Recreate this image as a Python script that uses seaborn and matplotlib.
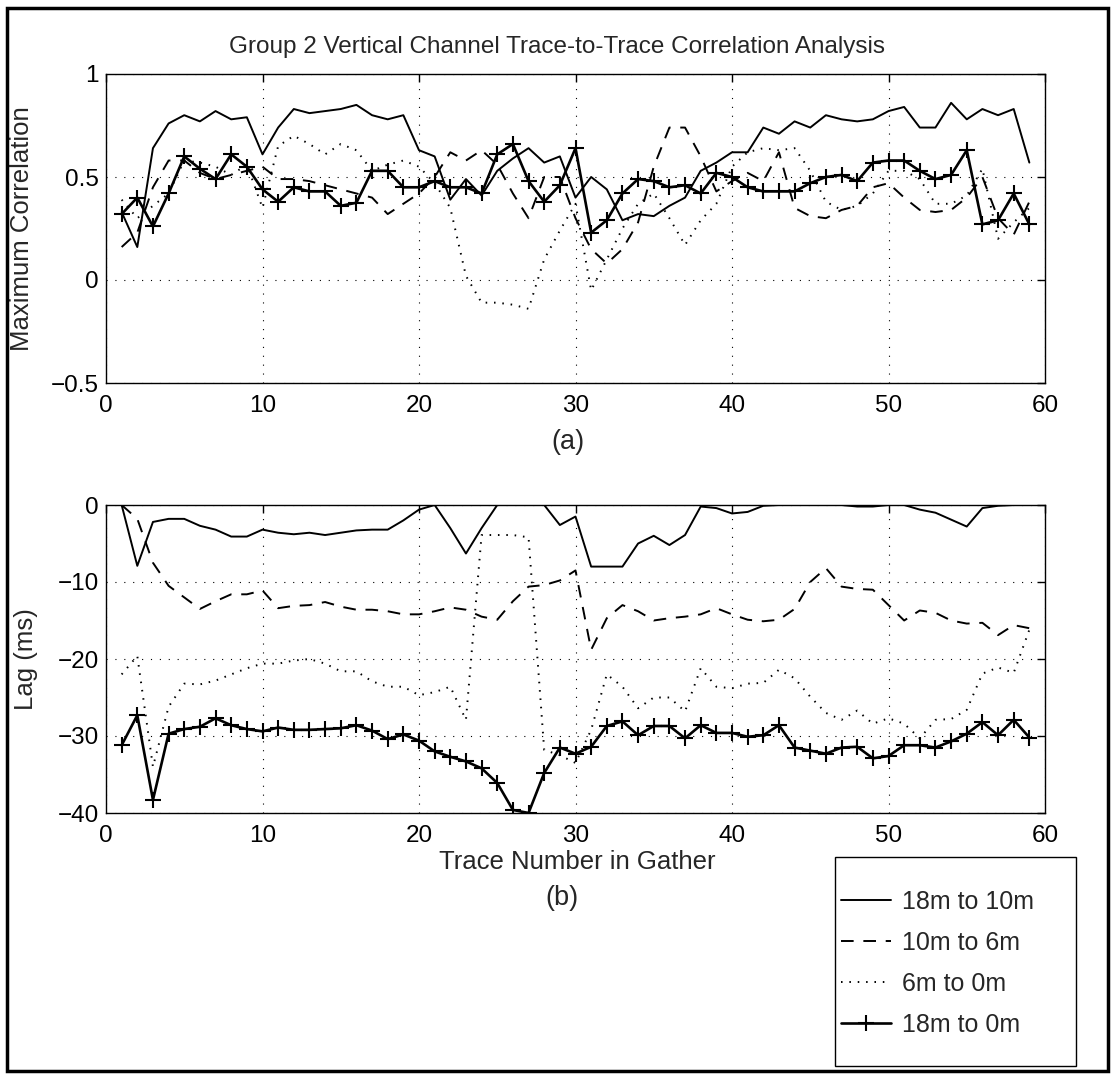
import matplotlib
matplotlib.use("Agg")
import matplotlib.pyplot as plt
from matplotlib.patches import Rectangle
import seaborn as sns
import numpy as np

# ---------------- data ----------------
trace = list(range(1, 60))

series_labels = ["18m to 10m", "10m to 6m", "6m to 0m", "18m to 0m"]

corr_18_10 = [0.33, 0.16, 0.64, 0.76, 0.80, 0.77, 0.82, 0.78, 0.79, 0.61,
              0.74, 0.83, 0.81, 0.82, 0.83, 0.85, 0.80, 0.78, 0.80, 0.63,
              0.60, 0.39, 0.49, 0.41, 0.53, 0.59, 0.64, 0.57, 0.60, 0.40,
              0.50, 0.44, 0.29, 0.32, 0.31, 0.36, 0.40, 0.53, 0.57, 0.62,
              0.62, 0.74, 0.71, 0.77, 0.74, 0.80, 0.78, 0.77, 0.78, 0.82,
              0.84, 0.74, 0.74, 0.86, 0.78, 0.83, 0.80, 0.83, 0.57]
corr_10_6 = [0.16, 0.23, 0.45, 0.58, 0.58, 0.52, 0.49, 0.51, 0.53, 0.55,
             0.49, 0.49, 0.48, 0.46, 0.44, 0.42, 0.40, 0.32, 0.37, 0.42,
             0.50, 0.62, 0.58, 0.63, 0.56, 0.42, 0.30, 0.50, 0.50, 0.30,
             0.15, 0.08, 0.15, 0.28, 0.55, 0.74, 0.74, 0.60, 0.43, 0.48,
             0.52, 0.48, 0.62, 0.35, 0.31, 0.30, 0.34, 0.36, 0.45, 0.47,
             0.40, 0.34, 0.33, 0.34, 0.40, 0.50, 0.30, 0.22, 0.38]
corr_6_0 = [0.39, 0.30, 0.36, 0.42, 0.58, 0.57, 0.55, 0.51, 0.56, 0.35,
            0.65, 0.70, 0.66, 0.61, 0.66, 0.63, 0.53, 0.56, 0.58, 0.55,
            0.47, 0.35, 0.02, -0.11, -0.11, -0.12, -0.14, 0.10, 0.24, 0.37,
            -0.05, 0.10, 0.25, 0.37, 0.42, 0.30, 0.17, 0.29, 0.37, 0.55,
            0.62, 0.64, 0.63, 0.64, 0.53, 0.38, 0.34, 0.36, 0.42, 0.53,
            0.53, 0.49, 0.37, 0.37, 0.41, 0.54, 0.20, 0.28, 0.35]
corr_18_0 = [0.32, 0.40, 0.26, 0.42, 0.60, 0.54, 0.49, 0.61, 0.55, 0.44,
             0.38, 0.45, 0.43, 0.43, 0.36, 0.375, 0.53, 0.53, 0.45, 0.45,
             0.48, 0.45, 0.45, 0.42, 0.61, 0.66, 0.48, 0.38, 0.46, 0.64,
             0.23, 0.29, 0.42, 0.49, 0.48, 0.45, 0.46, 0.42, 0.52, 0.50,
             0.45, 0.43, 0.43, 0.43, 0.47, 0.50, 0.51, 0.48, 0.57, 0.58,
             0.58, 0.53, 0.49, 0.51, 0.63, 0.27, 0.29, 0.42, 0.27]

lag_18_10 = [0, -7.9, -2.2, -1.8, -1.8, -2.7, -3.2, -4.1, -4.1, -3.2,
             -3.6, -3.8, -3.6, -3.9, -3.6, -3.3, -3.2, -3.2, -2.0, -0.6,
             0, -3.0, -6.3, -3.0, 0, 0, 0, 0, -2.6, -1.5,
             -8.0, -8.0, -8.0, -5.0, -4.0, -5.2, -3.9, -0.2, -0.4, -1.1,
             -0.9, -0.1, 0, 0, 0, 0, 0, -0.2, -0.2, 0,
             0, -0.6, -1.0, -1.9, -2.8, -0.4, -0.1, 0, 0]
lag_10_6 = [0, -1.8, -7.5, -10.5, -12.0, -13.5, -12.5, -11.6, -11.6, -11.1,
            -13.4, -13.1, -13.0, -12.6, -13.2, -13.6, -13.6, -13.8, -14.2, -14.2,
            -13.8, -13.3, -13.6, -14.5, -14.9, -12.5, -10.6, -10.4, -9.8, -8.5,
            -18.8, -14.7, -13.0, -13.8, -15.0, -14.7, -14.5, -14.2, -13.4, -14.2,
            -14.9, -15.1, -14.9, -13.5, -10.0, -8.2, -10.6, -10.9, -11.0, -13.0,
            -15.0, -13.7, -14.0, -15.0, -15.4, -15.3, -16.9, -15.6, -16.0]
lag_6_0 = [-22.0, -19.6, -34.0, -26.2, -23.2, -23.3, -22.8, -22.0, -21.2, -20.6,
           -20.6, -20.2, -20.0, -20.6, -21.6, -21.6, -22.9, -23.6, -23.6, -24.7,
           -24.3, -23.6, -27.9, -3.9, -3.9, -3.9, -4.2, -31.8, -32.5, -33.5,
           -29.2, -22.0, -23.6, -26.4, -25.0, -25.0, -26.8, -21.2, -23.6, -23.8,
           -23.2, -23.1, -21.4, -22.5, -24.9, -27.0, -27.9, -26.7, -28.4, -27.7,
           -28.4, -30.3, -27.9, -27.8, -26.6, -21.9, -21.1, -21.8, -16.2]
lag_18_0 = [-31.2, -27.3, -38.3, -29.7, -29.1, -28.8, -27.7, -28.6, -29.1, -29.4,
            -28.9, -29.2, -29.2, -29.1, -29.0, -28.6, -29.3, -30.4, -29.8, -30.6,
            -32.0, -32.7, -33.3, -34.2, -36.1, -39.6, -40.0, -34.8, -31.5, -32.3,
            -31.4, -28.7, -28.1, -29.9, -28.7, -28.7, -30.3, -28.6, -29.6, -29.6,
            -30.1, -29.9, -28.6, -31.5, -31.9, -32.3, -31.5, -31.4, -32.9, -32.6,
            -31.2, -31.2, -31.5, -30.7, -29.7, -28.2, -29.9, -27.9, -30.2]

x_ticks = [0, 10, 20, 30, 40, 50, 60]
corr_ticks = [-0.5, 0, 0.5, 1]
corr_tick_labels = ["\u22120.5", "0", "0.5", "1"]
lag_ticks = [-40, -30, -20, -10, 0]
lag_tick_labels = ["\u221240", "\u221230", "\u221220", "\u221210", "0"]

title = "Group 2 Vertical Channel Trace-to-Trace Correlation Analysis"

# ---------------- style ----------------
sns.set_style("white")
plt.rcParams["font.family"] = ["Liberation Sans", "DejaVu Sans"]
plt.rcParams["axes.linewidth"] = 1.0
FS = 17.5
LFS = 18.5

W, H = 1112, 1075
fig = plt.figure(figsize=(W / 100, H / 100), dpi=100)
fig.patch.set_facecolor("white")


def fx(px):
    return px / W


def fy(py):
    return 1 - py / H


ax1 = fig.add_axes([fx(106), fy(383), fx(1045) - fx(106), fy(74) - fy(383)])
ax2 = fig.add_axes([fx(106), fy(813), fx(1045) - fx(106), fy(505) - fy(813)])

styles = [
    dict(linestyle="-", linewidth=1.4),
    dict(linestyle=(0, (6.5, 5.0)), linewidth=1.4),
    dict(linestyle=(0, (0.8, 3.5)), linewidth=1.4),
    dict(linestyle="-", linewidth=1.9, marker="+", markersize=12,
         markeredgewidth=1.5, markeredgecolor="k"),
]

for ax, sets in [(ax1, [corr_18_10, corr_10_6, corr_6_0, corr_18_0]),
                 (ax2, [lag_18_10, lag_10_6, lag_6_0, lag_18_0])]:
    for vals, lab, st in zip(sets, series_labels, styles):
        sns.lineplot(x=trace, y=vals, ax=ax, color="k", label=lab,
                     errorbar=None, sort=False, **st)
    ax.get_legend().remove()
    ax.set_xlim(0, 60)
    ax.set_xticks(x_ticks)
    ax.grid(True, color="k", linestyle=(0, (1, 7)), linewidth=0.8)
    ax.tick_params(direction="in", top=True, right=True, length=6, width=1,
                   labelsize=FS, pad=9, colors="k")
    ax.tick_params(axis="y", pad=5)
    for s in ax.spines.values():
        s.set_color("k")
        s.set_linewidth(1.0)
    ax.set_xlabel("")
    ax.set_ylabel("")

ax1.set_ylim(-0.5, 1)
ax1.set_yticks(corr_ticks, corr_tick_labels)
ax2.set_ylim(-40, 0)
ax2.set_yticks(lag_ticks, lag_tick_labels)

ax1.set_ylabel("Maximum Correlation", fontsize=LFS)
ax1.yaxis.set_label_coords((34 - 106) / 939, 0.5)
ax2.set_ylabel("Lag (ms)", fontsize=LFS)
ax2.yaxis.set_label_coords((38 - 106) / 939, 0.5)
ax2.set_xlabel("Trace Number in Gather", fontsize=LFS)
ax2.xaxis.set_label_coords((577 - 106) / 939, -(850 - 813) / 308)

ax1.text((568 - 106) / 939, -(442 - 383) / 309, "(a)", transform=ax1.transAxes,
         ha="center", va="center", fontsize=LFS + 1)
ax2.text((562 - 106) / 939, -(898 - 813) / 308, "(b)", transform=ax2.transAxes,
         ha="center", va="center", fontsize=LFS + 1)

fig.text(fx(557), fy(47), title, ha="center", va="center", fontsize=FS)

# legend box
fig.patches.append(Rectangle((fx(835), fy(1066)), fx(1076) - fx(835),
                             fy(857) - fy(1066), transform=fig.transFigure,
                             fill=False, edgecolor="k", linewidth=1.0))
handles, labels = ax2.get_legend_handles_labels()
fig.legend(handles, labels, loc="upper left",
           bbox_to_anchor=(fx(841), fy(890)), frameon=False, borderpad=0,
           borderaxespad=0, handlelength=2.0, handletextpad=0.45,
           labelspacing=0.68, fontsize=FS + 0.5)

# outer border
fig.patches.append(Rectangle((fx(7), fy(1071)), fx(1108) - fx(7),
                             fy(8) - fy(1071), transform=fig.transFigure,
                             fill=False, edgecolor="k", linewidth=2.5))

fig.savefig("out.png", dpi=100, facecolor="white")
